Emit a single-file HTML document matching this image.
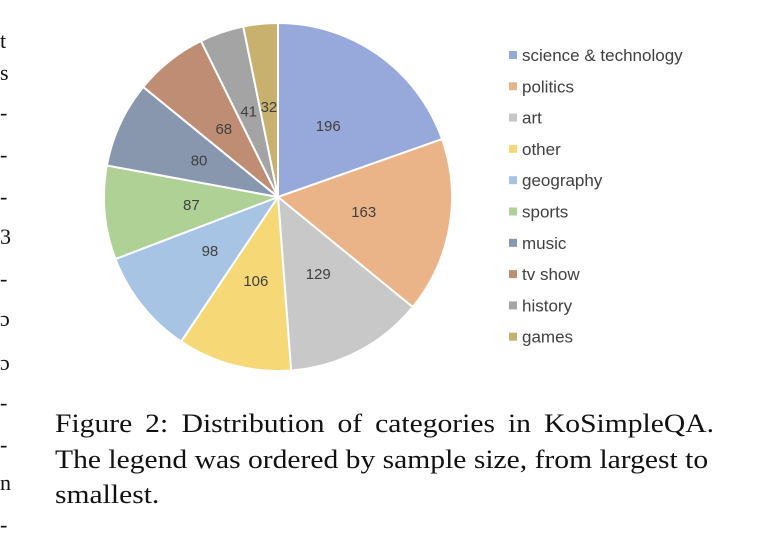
<!DOCTYPE html>
<html><head><meta charset="utf-8"><style>
body{margin:0;background:#fff;width:768px;height:544px;overflow:hidden;position:relative}
.cap{position:absolute;left:55px;top:406px;font-family:"Liberation Serif",serif;font-size:26.5px;line-height:35.5px;color:#111;white-space:nowrap;transform:scaleX(1.116);transform-origin:left top}
.m{position:absolute;left:0;font-family:"Liberation Serif",serif;font-size:22px;color:#111}
</style></head><body>
<div>
<div class="m" style="top:28px">t</div><div class="m" style="top:60px">s</div>
<div class="m" style="top:100px">-</div><div class="m" style="top:142px">-</div>
<div class="m" style="top:184px">-</div><div class="m" style="top:224px">3</div>
<div class="m" style="top:266px">-</div><div class="m" style="top:306px">ɔ</div>
<div class="m" style="top:350px">ɔ</div><div class="m" style="top:390px">-</div>
<div class="m" style="top:432px">-</div><div class="m" style="top:470px">n</div>
<div class="m" style="top:512px">-</div>
</div>
<svg id="chart" width="768" height="400" style="position:absolute;left:0;top:0"></svg>
<div class="cap"><span style="word-spacing:5px">Figure 2:<span style="display:inline-block;width:12px"></span>Distribution of categories in KoSimpleQA.</span><br>The legend was ordered by sample size, from largest to<br>smallest.</div>
<script>
const categories=["science & technology","politics","art","other","geography","sports","music","tv show","history","games"];
const values=[196,163,129,106,98,87,80,68,41,32];
const colors=["#97a9da","#ebb488","#c8c8c8","#f7d877","#a7c4e5","#afd196","#8897ae","#bf8d74","#a4a4a4","#c8b16f"];
const svg=document.getElementById('chart');const NS="http://www.w3.org/2000/svg";
const cx=278,cy=197,R=174;
const total=values.reduce((a,b)=>a+b,0);
function pt(a,r){return [cx+r*Math.sin(a),cy-r*Math.cos(a)];}
let acc=0;
values.forEach((v,i)=>{
 const a0=acc/total*2*Math.PI;acc+=v;const a1=acc/total*2*Math.PI;
 const p0=pt(a0,R),p1=pt(a1,R);
 const p=document.createElementNS(NS,'path');
 p.setAttribute('d',`M${cx},${cy}L${p0[0]},${p0[1]}A${R},${R} 0 ${a1-a0>Math.PI?1:0} 1 ${p1[0]},${p1[1]}Z`);
 p.setAttribute('fill',colors[i]);p.setAttribute('stroke','#fff');p.setAttribute('stroke-width','2');
 
 
 svg.appendChild(p);
 const m=(a0+a1)/2;const rr=i>=8?0.52*R:0.5*R;const lp=pt(m,rr);
 const t=document.createElementNS(NS,'text');
 t.setAttribute('x',lp[0]);t.setAttribute('y',lp[1]+5);t.setAttribute('text-anchor','middle');
 t.setAttribute('font-family','Liberation Sans, sans-serif');t.setAttribute('font-size','15');t.setAttribute('fill','#404040');
 t.textContent=v;
 
 
 svg.appendChild(t);
});
categories.forEach((c,i)=>{
 const y=55+i*31.3;
 const r=document.createElementNS(NS,'rect');
 r.setAttribute('x',509);r.setAttribute('y',y-4);r.setAttribute('width',8);r.setAttribute('height',8);r.setAttribute('fill',colors[i]);
 
 
 svg.appendChild(r);
 const t=document.createElementNS(NS,'text');
 t.setAttribute('x',522);t.setAttribute('y',y+6);
 t.setAttribute('font-family','Liberation Sans, sans-serif');t.setAttribute('font-size','17');t.setAttribute('fill','#404040');
 t.textContent=c;
 
 
 svg.appendChild(t);
});
</script>
</body></html>
